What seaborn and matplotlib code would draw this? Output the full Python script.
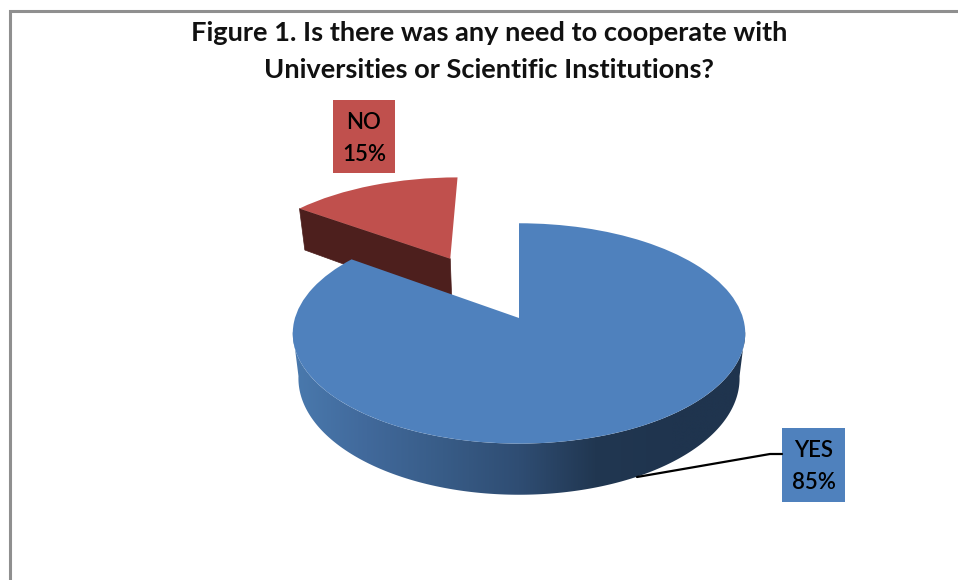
import numpy as np
import seaborn as sns
import matplotlib
matplotlib.use("Agg")
import matplotlib.pyplot as plt
from matplotlib.colors import LinearSegmentedColormap
from matplotlib.patches import Rectangle, Polygon
from matplotlib.transforms import Transform, Affine2D

title_lines = ["Figure 1. Is there was any need to cooperate with",
               "Universities or Scientific Institutions?"]
categories = ["YES", "NO"]
values = [85, 15]
explode = [0, 0.68]
top_colors = ["#4f81bd", "#c0504d"]
RED_WALL = "#4d1f1d"

sns.set_theme(style="white")
plt.rcParams["font.family"] = ["Lato", "DejaVu Sans"]

CX, CY, RX, RY, K, DEPTH = 519, 318, 224, 108, 0.14, 44
LOWER_RIM = 0.975
NO_SHIFT = (-5, 1)
NO_WALL_DEPTH = 1.1


class Perspective(Transform):
    """Maps the unit pie plane to a tilted view in pixel-like axes units."""
    input_dims = output_dims = 2
    is_separable = False
    has_inverse = False

    def transform_non_affine(self, v):
        v = np.asarray(v, dtype=float)
        w = 1 + K * v[:, 1]
        return np.column_stack([CX + RX * v[:, 0] / w, CY - RY * v[:, 1] / w])


persp = Perspective()


def lower(xy, scale=1.0):
    """Point of the lower rim under a pie-plane point."""
    p = persp.transform(xy)
    d = scale * DEPTH / (1 + K * xy[:, 1])
    return np.column_stack([CX + (p[:, 0] - CX) * LOWER_RIM, p[:, 1] + d])


fig = plt.figure(figsize=(9.58, 5.80), dpi=100, facecolor="white")
ax = fig.add_axes([0, 0, 1, 1])
wedges, _ = ax.pie(values, explode=explode, colors=top_colors, startangle=90,
                   counterclock=False, radius=1, wedgeprops=dict(linewidth=0))

# angles of the slices, clockwise from 12 o'clock
shares = np.array(values, dtype=float) / sum(values)
edges = np.concatenate([[0], np.cumsum(shares)]) * 2 * np.pi

# outer wall of the big slice, a smooth horizontal shade clipped to the wall
wall_cmap = LinearSegmentedColormap.from_list(
    "wall", ["#4a7aae", "#41699b", "#385c87", "#2f4d73", "#213751", "#1f344e", "#1f344e"])
th = np.linspace(edges[0], edges[1], 720)
rim = np.column_stack([np.sin(th), np.cos(th)])
rim = rim[rim[:, 1] < -0.12]
rim = rim[np.argsort(rim[:, 0])]
wall_xy = np.vstack([persp.transform(rim), lower(rim)[::-1]])
wall = Polygon(wall_xy, closed=True, transform=ax.transData, facecolor="none", edgecolor="none")
ax.add_patch(wall)
img = ax.imshow(np.linspace(0, 1, 512)[None, :], cmap=wall_cmap, aspect="auto",
                extent=(CX - RX - 5, CX + RX + 5, 520, 320), zorder=4,
                interpolation="bilinear")
img.set_clip_path(wall)

ax.set_aspect("auto")
ax.set_xlim(0, 958)
ax.set_ylim(580, 0)
ax.axis("off")

shift = Affine2D().translate(*NO_SHIFT)
wedges[0].set_transform(persp + ax.transData)
wedges[1].set_transform(persp + shift + ax.transData)
wedges[0].set_zorder(5)
wedges[1].set_zorder(2)

# cut face of the exploded slice
mid = (edges[1] + edges[2]) / 2
off = explode[1] * np.array([np.sin(mid), np.cos(mid)])
corner = off + np.array([np.sin(edges[1]), np.cos(edges[1])])
pts = np.vstack([off, corner])
top_pts = persp.transform(pts) + NO_SHIFT
low_pts = lower(pts, NO_WALL_DEPTH) + NO_SHIFT
ax.add_patch(Polygon([top_pts[0], top_pts[1], low_pts[1], low_pts[0]],
                     closed=True, facecolor=RED_WALL, edgecolor=RED_WALL,
                     linewidth=0.5, zorder=1))

# page border
ax.plot([10.5, 10.5, 958], [580, 10.5, 10.5], color="#8f8f8f", lw=2.2,
        solid_joinstyle="miter", zorder=0)

# title
for line, y in zip(title_lines, [33, 70]):
    ax.text(489, y, line, ha="center", va="center", fontsize=19.6,
            fontweight="bold", color="#111111")

# data labels
boxes = [(782, 428, 63, 74), (333, 100, 62, 73)]
for name, val, col, (x, y, bw, bh) in zip(categories, values, top_colors, boxes):
    ax.add_patch(Rectangle((x, y), bw, bh, facecolor=col, edgecolor="none", zorder=6))
    ax.text(x + bw / 2, y + bh * 0.31, name, ha="center", va="center",
            fontsize=16, color="black", zorder=7, fontweight="semibold")
    ax.text(x + bw / 2, y + bh * 0.74, f"{val}%", ha="center", va="center",
            fontsize=16, color="black", zorder=7, fontweight="semibold")

# leader line for YES
ax.plot([637, 770, 782], [477, 454, 454], color="black", lw=1.6, zorder=6)

fig.savefig("out.png", dpi=100, facecolor="white")
